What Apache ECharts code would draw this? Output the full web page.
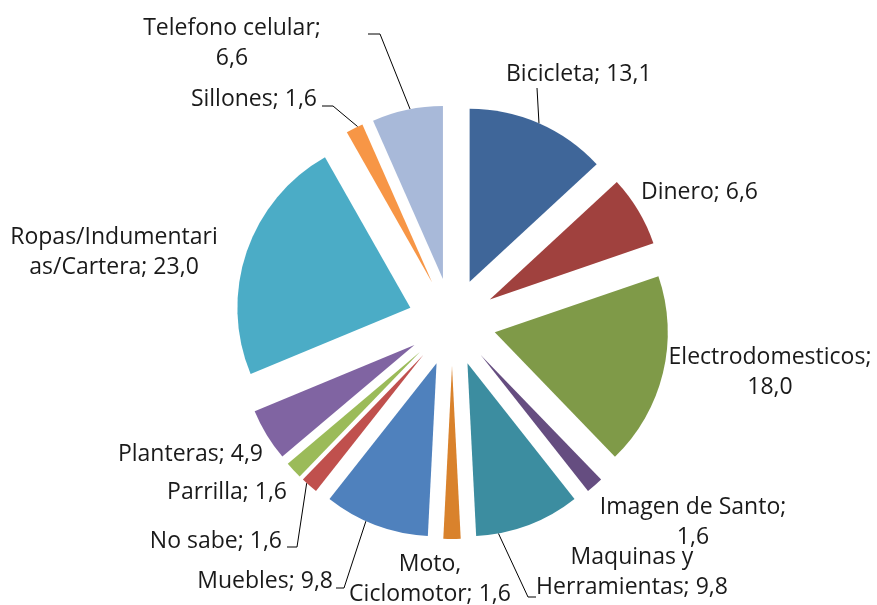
<!DOCTYPE html>
<html>
<head>
<meta charset="utf-8">
<script src="https://cdn.jsdelivr.net/npm/echarts@6/dist/echarts.min.js"></script>
<style>
  html, body { margin: 0; padding: 0; background: #fff; }
  #chart { width: 877px; height: 605px; }
</style>
</head>
<body>
<div id="chart"></div>
<script>
var categories = ["Bicicleta", "Dinero", "Electrodomesticos", "Imagen de Santo", "Maquinas y Herramientas",
  "Moto, Ciclomotor", "Muebles", "No sabe", "Parrilla", "Planteras", "Ropas/Indumentarias/Cartera",
  "Sillones", "Telefono celular"];
var values = [13.1, 6.6, 18.0, 1.6, 9.8, 1.6, 9.8, 1.6, 1.6, 4.9, 23.0, 1.6, 6.6];
// label text as wrapped in the original
var labelNames = ["Bicicleta", "Dinero", "Electrodomesticos", "Imagen de Santo", "Maquinas y\nHerramientas",
  "Moto,\nCiclomotor", "Muebles", "No sabe", "Parrilla", "Planteras", "Ropas/Indumentari\nas/Cartera",
  "Sillones", "Telefono celular"];
var valueOnNewLine = [false, false, true, true, false, false, false, false, false, false, false, false, true];

var colors = ["#3f6699", "#a0413e", "#7f9a48", "#654d80", "#3c8da0", "#d9822c", "#4f81bd",
  "#c0504d", "#9bbb59", "#8064a2", "#4bacc6", "#f79646", "#a8b9d9"];

// pie geometry in px
var cx = 452, cy = 322, radius = 173, explode = 44;

// label placement [x, y, align]
var labelPos = {
  0: [506, 74, "left"],
  1: [641, 192, "left"],
  2: [770, 372, "center"],
  3: [693, 522, "center"],
  4: [632, 572, "center"],
  5: [430, 579, "center"],
  6: [333, 581, "right"],
  7: [282, 541, "right"],
  8: [287, 492, "right"],
  9: [263, 454, "right"],
  10: [114, 252, "center"],
  11: [317, 99, "right"],
  12: [232, 43, "center"]
};
// leader lines: anchor at a fraction of the slice arc, then points toward the label
var leaders = {
  0: { f: 0.5, pts: [[537, 88]] },
  4: { f: 0.79, pts: [[528, 597], [536, 597]] },
  6: { f: 0.6, pts: [[344, 588], [336, 588]] },
  7: { f: 0.7, pts: [[297, 547], [287, 547]] },
  11: { f: 0.7, pts: [[333, 106], [322, 106]] },
  12: { f: 0.54, pts: [[380, 34], [368, 34]] }
};

var total = values.reduce(function (a, b) { return a + b; }, 0);
var cum = [];
values.reduce(function (acc, v, i) { cum[i] = acc; return acc + v; }, 0);

function fmt(v) {
  return v.toFixed(1).replace(".", ",");
}
function midAngle(i) {
  return (cum[i] + values[i] / 2) / total * Math.PI * 2;
}
// point on the outer arc of an exploded slice
function arcPoint(i, f) {
  var a = (cum[i] + values[i] * f) / total * Math.PI * 2;
  var m = midAngle(i);
  return [cx + explode * Math.sin(m) + radius * Math.sin(a),
          cy - explode * Math.cos(m) - radius * Math.cos(a)];
}

var chart = echarts.init(document.getElementById("chart"));

// exploded slices
var sliceData = categories.map(function (name, i) {
  return { name: name, value: values[i], selected: true, itemStyle: { color: colors[i] } };
});
// same slices, invisible, carrying the labels
var labelData = categories.map(function (name, i) {
  return { name: name, value: values[i], labelLine: { show: !!leaders[i] } };
});

chart.setOption({
  animation: false,
  backgroundColor: "#fff",
  series: [{
    type: "pie",
    center: [cx, cy],
    radius: radius,
    startAngle: 90,
    clockwise: true,
    selectedMode: "multiple",
    selectedOffset: explode,
    data: sliceData,
    label: { show: false },
    labelLine: { show: false },
    emphasis: { disabled: true },
    silent: true
  }, {
    type: "pie",
    center: [cx, cy],
    radius: radius,
    startAngle: 90,
    clockwise: true,
    avoidLabelOverlap: false,
    selectedMode: false,
    data: labelData,
    itemStyle: { color: "rgba(0,0,0,0)" },
    label: {
      show: true,
      position: "outside",
      color: "#1a1a1a",
      fontFamily: "Open Sans",
      fontSize: 23,
      lineHeight: 30,
      formatter: function (p) {
        var i = p.dataIndex;
        return labelNames[i] + (valueOnNewLine[i] ? ";\n" : "; ") + fmt(values[i]);
      }
    },
    labelLine: {
      show: true,
      lineStyle: { color: "#000", width: 1 }
    },
    labelLayout: function (p) {
      var i = p.dataIndex;
      var pos = labelPos[i];
      var out = { x: pos[0], y: pos[1], align: pos[2], verticalAlign: "middle", width: 400 };
      if (leaders[i]) {
        out.labelLinePoints = [arcPoint(i, leaders[i].f)].concat(leaders[i].pts);
      }
      return out;
    },
    emphasis: { disabled: true },
    silent: true
  }]
});
</script>
</body>
</html>
